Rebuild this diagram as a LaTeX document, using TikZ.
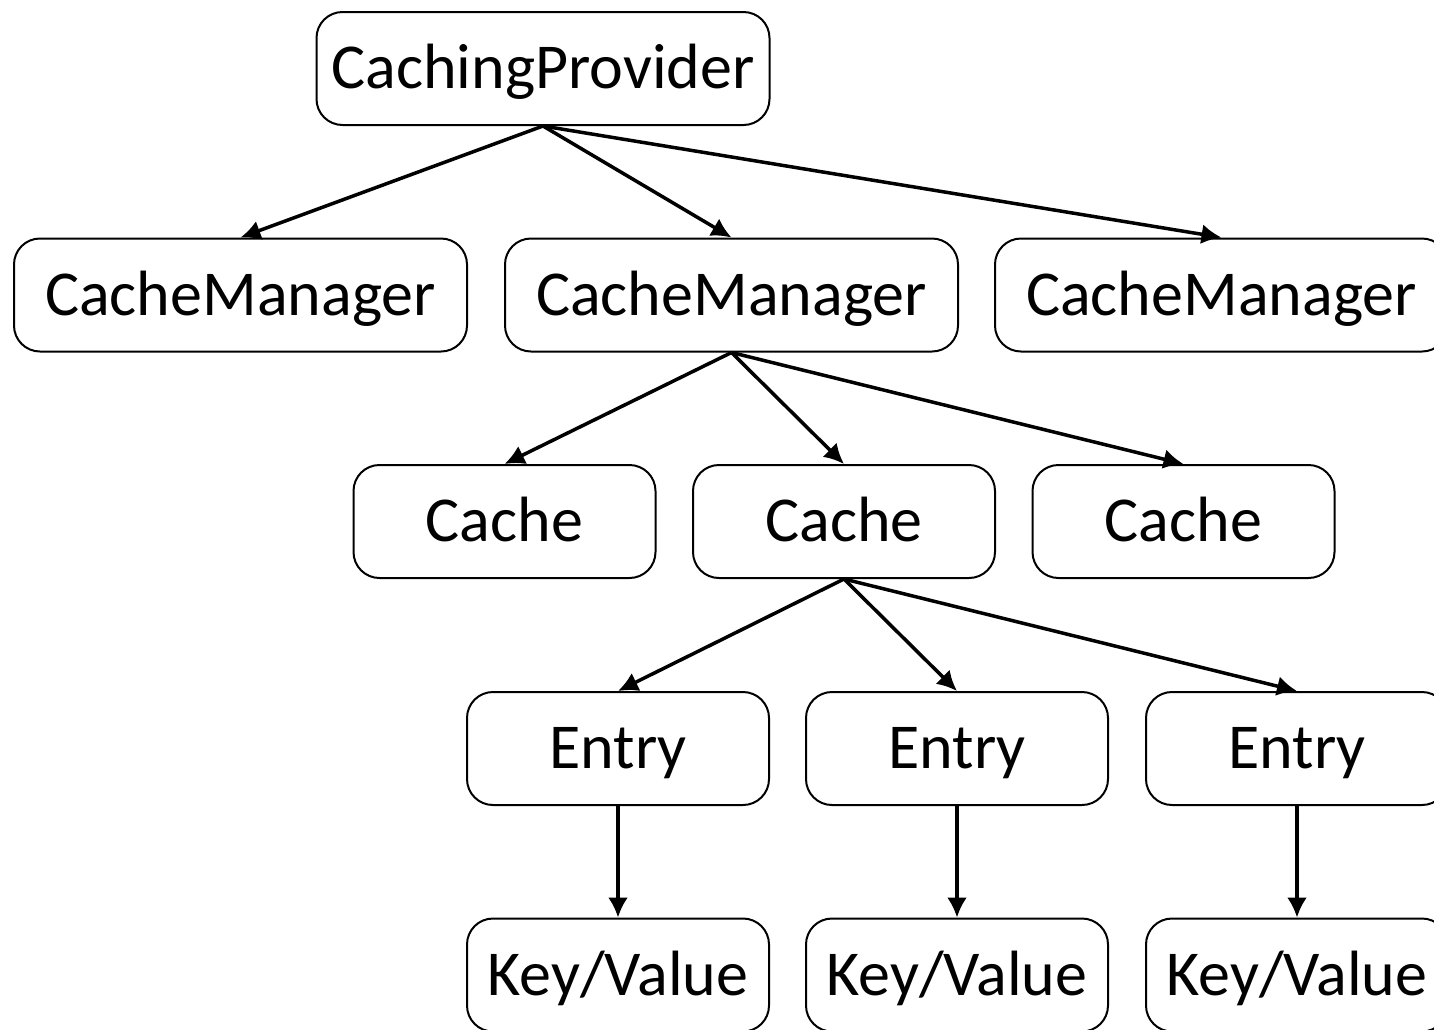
\documentclass[tikz,border=0pt]{standalone}
\usepackage{fontspec}
\setmainfont{Carlito}
\usetikzlibrary{arrows.meta,positioning}
\tikzset{
>={Latex[length=10pt,width=10pt]},
  classnode/.style={
    rectangle,
    rounded corners=13pt,
    draw=black, line width=1pt,
    minimum width=151pt,
    minimum height=56.5pt,
    inner sep=0pt,
    text height=26pt, text depth=6pt,
    font=\fontsize{32}{38}\selectfont},
  widenode/.style={
    classnode,
    minimum width=226.5pt},
  line/.style={draw, line width=1.75pt, ->}
}
\begin{document}
\begin{tikzpicture}
  [x=0.5pt, y=-0.5pt]
  \useasboundingbox (0,0) rectangle (1434,1029);
  \clip (0,0) rectangle (1434,1029);
  \node[widenode] (Provider) at (543,68.5) {CachingProvider};

  \node[widenode] (ManagerA) at (240.5,295) {CacheManager};
  \node[widenode] (ManagerB) at (731.5,295) {CacheManager};
  \node[widenode] (ManagerC) at (1221.5,295) {CacheManager};

  \node[classnode] (CacheA) at (504.5,521.5) {Cache};
  \node[classnode] (CacheB) at (844,521.5) {Cache};
  \node[classnode] (CacheC) at (1183.5,521.5) {Cache};

  \node[classnode] (EntryA) at (618,748.5) {Entry};
  \node[classnode] (EntryB) at (957,748.5) {Entry};
  \node[classnode] (EntryC) at (1297,748.5) {Entry};

  \node[classnode] (PairA) at (618,975) {Key/Value};
  \node[classnode] (PairB) at (957,975) {Key/Value};
  \node[classnode] (PairC) at (1297,975) {Key/Value};

  \path[line] (Provider.south) -- (ManagerA.north);
  \path[line] (Provider.south) -- (ManagerB.north);
  \path[line] (Provider.south) -- (ManagerC.north);

  \path[line] (ManagerB.south) -- (CacheA.north);
  \path[line] (ManagerB.south) -- (CacheB.north);
  \path[line] (ManagerB.south) -- (CacheC.north);

  \path[line] (CacheB.south) -- (EntryA.north);
  \path[line] (CacheB.south) -- (EntryB.north);
  \path[line] (CacheB.south) -- (EntryC.north);

  \path[line] (EntryA) -- (PairA);
  \path[line] (EntryB) -- (PairB);
  \path[line] (EntryC) -- (PairC);
\end{tikzpicture}
\end{document}
